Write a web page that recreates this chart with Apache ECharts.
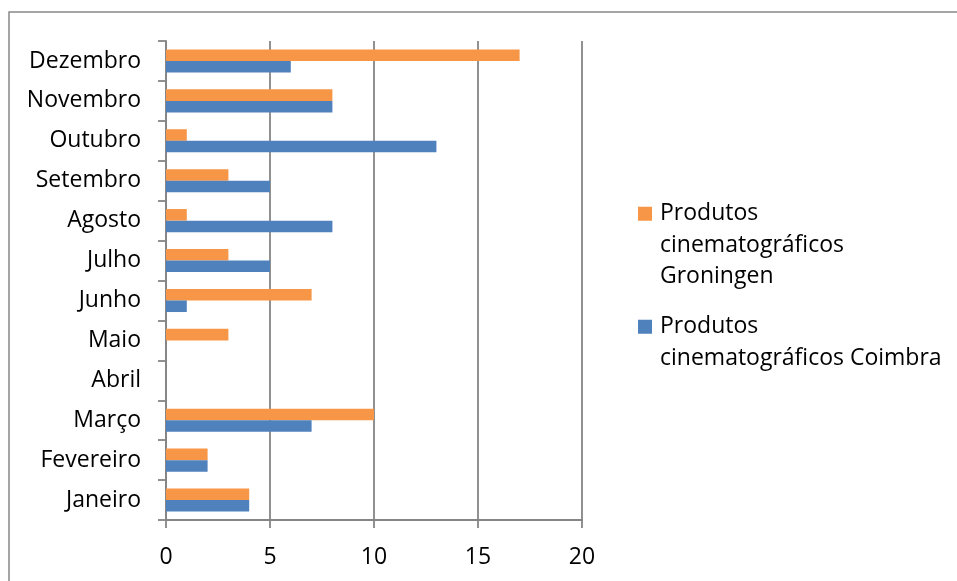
<!DOCTYPE html>
<html>
<head>
<meta charset="utf-8">
<style>
  html, body { margin: 0; padding: 0; background: #ffffff; }
  #chart { width: 957px; height: 581px; }
</style>
<script src="https://cdn.jsdelivr.net/npm/echarts@6/dist/echarts.min.js"></script>
</head>
<body>
<div id="chart"></div>
<script>
// Months, bottom to top on the category axis
const months = ['Janeiro', 'Fevereiro', 'Março', 'Abril', 'Maio', 'Junho',
  'Julho', 'Agosto', 'Setembro', 'Outubro', 'Novembro', 'Dezembro'];

// Monthly counts per city
const coimbra   = [4, 2, 7, 0, 0, 1, 5, 8, 5, 13, 8, 6];
const groningen = [4, 2, 10, 0, 3, 7, 3, 1, 3, 1, 8, 17];

const seriesNames = ['Produtos cinematográficos Groningen', 'Produtos cinematográficos Coimbra'];
const legendLines = [
  ['Produtos', 'cinematográficos', 'Groningen'],
  ['Produtos', 'cinematográficos Coimbra']
];
const xTicks = { min: 0, max: 20, interval: 5 };

const FONT = '"Open Sans", sans-serif';
const FS = 23;
const LH = 31.5;
const GRAY = '#858585';
const ORANGE = '#F79646';
const BLUE = '#4F81BD';

// Legend icon: a square beside the first text line, inside a box as tall as the text block
function iconFor(lines) {
  const h = lines * LH;
  const top = LH / 2 - 7;
  return 'path://M0,0h0.01v0.01h-0.01z M0,' + top + 'h14v14h-14z M0,' + (h - 0.01) + 'h0.01v0.01h-0.01z';
}

function makeLegend(i, topPx) {
  const n = legendLines[i].length;
  return {
    left: 638,
    top: topPx,
    padding: 0,
    orient: 'vertical',
    itemWidth: 14,
    itemHeight: n * LH,
    itemGap: 8,
    selectedMode: false,
    icon: iconFor(n),
    data: [seriesNames[i]],
    formatter: () => legendLines[i].join('\n'),
    textStyle: { fontFamily: FONT, fontSize: FS, lineHeight: LH, color: '#000', padding: [0, 0, 0, 3] }
  };
}

const chart = echarts.init(document.getElementById('chart'), null, { renderer: 'canvas' });

chart.setOption({
  animation: false,
  backgroundColor: '#ffffff',
  graphic: [{
    type: 'rect',
    shape: { x: 9, y: 12, width: 1000, height: 700 },
    style: { fill: 'none', stroke: '#888888', lineWidth: 1.5 },
    silent: true,
    z: -10
  }],
  grid: { left: 166, right: 375, top: 41, bottom: 61, containLabel: false },
  legend: [makeLegend(0, 198), makeLegend(1, 311)],
  xAxis: {
    type: 'value',
    min: xTicks.min, max: xTicks.max, interval: xTicks.interval,
    axisLine: { show: true, lineStyle: { color: GRAY, width: 1.8 } },
    axisTick: { show: true, length: 8, lineStyle: { color: GRAY, width: 1.8 } },
    splitLine: { show: true, lineStyle: { color: GRAY, width: 1.8 } },
    axisLabel: { color: '#000', fontFamily: FONT, fontSize: FS, margin: 26 }
  },
  yAxis: {
    type: 'category',
    data: months,
    axisLine: { show: true, lineStyle: { color: GRAY, width: 1.8 } },
    axisTick: { show: true, length: 8, alignWithLabel: false, lineStyle: { color: GRAY, width: 1.8 } },
    axisLabel: { color: '#000', fontFamily: FONT, fontSize: FS, margin: 25, padding: [4, 0, 0, 0] },
    splitLine: { show: false }
  },
  series: [
    {
      name: seriesNames[0],
      type: 'bar',
      data: groningen,
      itemStyle: { color: ORANGE },
      barGap: '0%',
      barCategoryGap: '42%'
    },
    {
      name: seriesNames[1],
      type: 'bar',
      data: coimbra,
      itemStyle: { color: BLUE },
      barGap: '0%',
      barCategoryGap: '42%'
    }
  ]
});
</script>
</body>
</html>
